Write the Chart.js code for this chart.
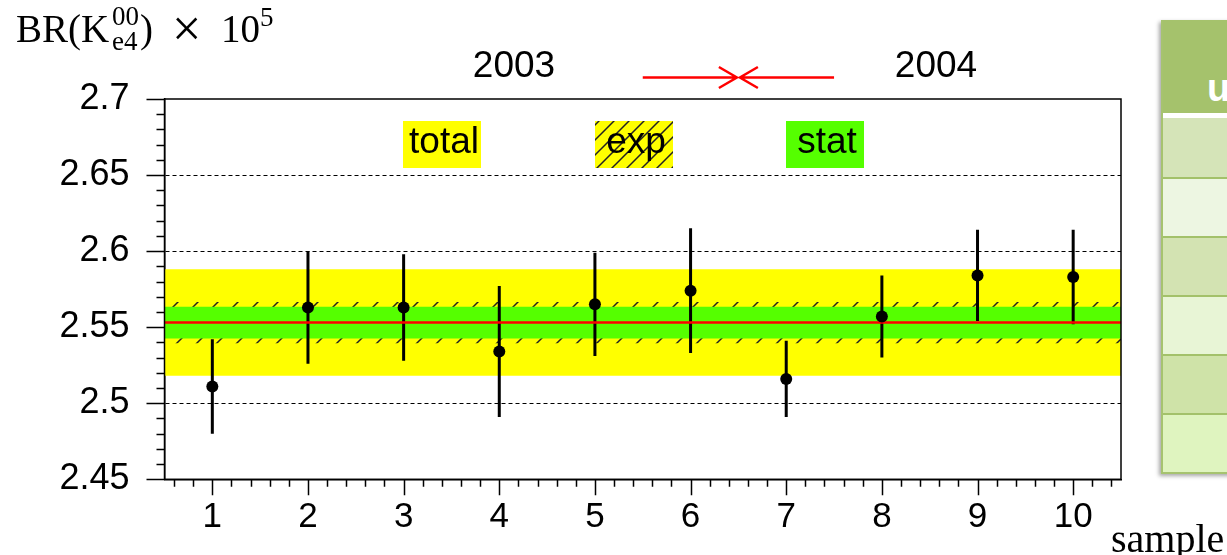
<!DOCTYPE html>
<html>
<head>
<meta charset="utf-8">
<script src="https://cdn.jsdelivr.net/npm/chart.js@4.4.1/dist/chart.umd.min.js"></script>
<style>
  html, body { margin: 0; padding: 0; background: #fff; }
  #wrap { position: relative; width: 1227px; height: 555px; overflow: hidden; }
  #c { position: absolute; left: 0; top: 0; }
  #tbl {
    position: absolute; left: 1161px; top: 20px; width: 90px; height: 454px;
    box-sizing: border-box; border-left: 2px solid #a6c36f; border-bottom: 2px solid #a6c36f;
    box-shadow: -2px 2px 4px rgba(0,0,0,0.35); background: #fff;
  }
  #tbl .hd { position: relative; height: 93px; background: #a5c26c; }
  #tbl .hd span {
    position: absolute; left: 44px; top: 48px; color: #fff;
    font: bold 38px "Liberation Sans", Arial, sans-serif; line-height: 40px;
  }
  #tbl .sep { height: 5px; background: #fff; }
  #tbl .rw { box-sizing: border-box; height: 59px; }
  #tbl .rw + .rw { border-top: 2px solid #a3c16a; }
</style>
</head>
<body>
<div id="wrap">
  <canvas id="c" width="1227" height="555"></canvas>
  <div id="tbl">
    <div class="hd"><span>u</span></div>
    <div class="sep"></div>
    <div class="rw" style="background:#d5e4b8"></div>
    <div class="rw" style="background:#edf6e2"></div>
    <div class="rw" style="background:#d3e3b2"></div>
    <div class="rw" style="background:#e8f5d6"></div>
    <div class="rw" style="background:#cfe3a8"></div>
    <div class="rw" style="background:#dff4bf"></div>
  </div>
</div>
<script>
// Branching ratio per data sample (x 10^5) with its statistical error
const samples = [1, 2, 3, 4, 5, 6, 7, 8, 9, 10];
const brValues = [2.511, 2.563, 2.563, 2.534, 2.565, 2.574, 2.516, 2.557, 2.584, 2.583];
const brErrors = [0.031, 0.037, 0.035, 0.043, 0.034, 0.041, 0.025, 0.027, 0.030, 0.031];

// Combined result and its error bands
const meanValue = 2.553;
const statError = 0.0105;
const expError = 0.0135;
const totalError = 0.035;

// Axis ticks
const xTickLabels = ['1', '2', '3', '4', '5', '6', '7', '8', '9', '10'];
const yTickValues = [2.45, 2.5, 2.55, 2.6, 2.65, 2.7];
const yTickLabels = ['2.45', '2.5', '2.55', '2.6', '2.65', '2.7'];
const xRange = [0.5, 10.5];

// Data-taking periods and the boundary between them
const yearLabels = ['2003', '2004'];
const yearBoundary = 6.5;
const arrowTails = [5.5, 7.5];

const legendLabels = ['total', 'exp', 'stat'];

const YELLOW = '#ffff00';
const GREEN = '#55ff00';
const RED = '#ff0000';
const SANS = '"Liberation Sans", Arial, Helvetica, sans-serif';
const SERIF = '"Liberation Serif", "Times New Roman", serif';

function hatch(step) {
  const c = document.createElement('canvas');
  c.width = step; c.height = step;
  const g = c.getContext('2d');
  g.strokeStyle = '#222';
  g.lineWidth = 1.5;
  g.beginPath();
  g.moveTo(0, step); g.lineTo(step, 0);
  g.moveTo(-2, 2); g.lineTo(2, -2);
  g.moveTo(step - 2, step + 2); g.lineTo(step + 2, step - 2);
  g.stroke();
  return document.getElementById('c').getContext('2d').createPattern(c, 'repeat');
}
const bandHatch = hatch(20);
const legendHatch = hatch(15);

function band(value, color, order, fill) {
  return {
    type: 'line',
    data: [{ x: xRange[0], y: value }, { x: xRange[1], y: value }],
    borderColor: 'rgba(0,0,0,0)', borderWidth: 0, pointRadius: 0,
    backgroundColor: color, fill: fill, order: order
  };
}

const datasets = [
  band(meanValue + totalError, YELLOW, 50, '+1'),
  band(meanValue - totalError, YELLOW, 50, false),
  band(meanValue + expError, bandHatch, 40, '+1'),
  band(meanValue - expError, bandHatch, 40, false),
  band(meanValue + statError, GREEN, 30, '+1'),
  band(meanValue - statError, GREEN, 30, false),
  {
    type: 'line',
    data: [{ x: xRange[0], y: meanValue }, { x: xRange[1], y: meanValue }],
    borderColor: RED, borderWidth: 2.5, pointRadius: 0, fill: false, order: 20
  },
  {
    type: 'scatter',
    data: samples.map((s, i) => ({ x: s, y: brValues[i] })),
    backgroundColor: '#000', borderColor: '#000', pointRadius: 6, borderWidth: 0, order: 10
  }
];
const MEAN_INDEX = 6;

function drawErrorBars(chart) {
  const { ctx, scales: { x, y } } = chart;
  ctx.save();
  ctx.strokeStyle = '#000';
  ctx.lineWidth = 3;
  ctx.beginPath();
  samples.forEach((s, i) => {
    const px = x.getPixelForValue(s);
    ctx.moveTo(px, y.getPixelForValue(brValues[i] + brErrors[i]));
    ctx.lineTo(px, y.getPixelForValue(brValues[i] - brErrors[i]));
  });
  ctx.stroke();
  ctx.restore();
}

function drawFrameAndTicks(chart) {
  const { ctx, chartArea: a, scales: { x, y } } = chart;
  ctx.save();
  ctx.strokeStyle = '#000';
  ctx.lineWidth = 1.5;
  ctx.strokeRect(a.left, a.top, a.right - a.left, a.bottom - a.top);
  ctx.beginPath();
  for (let i = 0; ; i++) {
    const v = xRange[0] + 0.1 + 0.2 * i;
    if (v > xRange[1]) break;
    const major = Math.abs(v - Math.round(v)) < 1e-6;
    const px = Math.round(x.getPixelForValue(v)) + 0.5;
    ctx.moveTo(px, a.bottom);
    ctx.lineTo(px, a.bottom + (major ? 16 : 7.5));
  }
  for (let i = 0; i <= 25; i++) {
    const v = yTickValues[0] + 0.01 * i;
    const py = Math.round(y.getPixelForValue(v)) + 0.5;
    ctx.moveTo(a.left, py);
    ctx.lineTo(a.left - (i % 5 === 0 ? 18 : 8), py);
  }
  ctx.stroke();
  ctx.restore();
}

function drawAnnotations(chart) {
  const { ctx, scales: { x } } = chart;
  ctx.save();
  // period labels
  ctx.fillStyle = '#000';
  ctx.font = '37px ' + SANS;
  ctx.textAlign = 'center';
  ctx.textBaseline = 'alphabetic';
  ctx.fillText(yearLabels[0], 514, 77);
  ctx.fillText(yearLabels[1], 936, 77);

  // arrows pointing at the period boundary
  const ay = 77.5;
  ctx.strokeStyle = RED;
  ctx.lineWidth = 2.5;
  ctx.beginPath();
  const tip = x.getPixelForValue(yearBoundary);
  [[arrowTails[0], -1.5], [arrowTails[1], 1.5]].forEach(([tail, off]) => {
    const tx = tip + off;
    const sx = x.getPixelForValue(tail);
    const dir = Math.sign(sx - tx);
    ctx.moveTo(sx, ay); ctx.lineTo(tx, ay);
    ctx.moveTo(tx + dir * 18, ay - 10.5); ctx.lineTo(tx, ay); ctx.lineTo(tx + dir * 18, ay + 10.5);
  });
  ctx.stroke();

  // legend
  const boxes = [
    { x: 403, fills: [YELLOW] },
    { x: 595, fills: [YELLOW, legendHatch] },
    { x: 786, fills: [GREEN] }
  ];
  ctx.font = '37px ' + SANS;
  boxes.forEach((b, i) => {
    b.fills.forEach(f => { ctx.fillStyle = f; ctx.fillRect(b.x, 121, 78, 47); });
    ctx.fillStyle = '#000';
    ctx.fillText(legendLabels[i], b.x + 41, 153);
  });

  // axis titles
  ctx.textAlign = 'left';
  ctx.font = '39px ' + SERIF;
  ctx.fillText('BR(K', 16, 41.5);
  ctx.fillText(')', 140, 41.5);
  ctx.fillText('10', 221, 41.5);
  ctx.font = '52px ' + SERIF;
  ctx.fillText('\u00d7', 172, 46);
  ctx.font = '27px ' + SERIF;
  ctx.fillText('00', 112, 25);
  ctx.fillText('e4', 112, 50);
  ctx.fillText('5', 260, 26);
  ctx.font = '40px ' + SERIF;
  ctx.fillText('sample', 1111, 551.5);
  ctx.restore();
}

const decor = {
  id: 'decor',
  beforeDatasetDraw(chart, args) {
    if (args.index === MEAN_INDEX) drawErrorBars(chart);
  },
  afterDraw(chart) {
    drawFrameAndTicks(chart);
    drawAnnotations(chart);
  }
};

new Chart(document.getElementById('c'), {
  type: 'scatter',
  data: { datasets },
  plugins: [decor],
  options: {
    responsive: false,
    animation: false,
    events: [],
    layout: { padding: { top: 99, right: 106, left: 0, bottom: 0 } },
    plugins: { legend: { display: false }, tooltip: { enabled: false } },
    scales: {
      x: {
        type: 'linear',
        min: xRange[0], max: xRange[1],
        afterFit: s => { s.height = 75.7; },
        afterBuildTicks: s => { s.ticks = samples.map(v => ({ value: v })); },
        grid: { display: false, drawTicks: false },
        border: { display: true, color: '#000', width: 1.5 },
        ticks: {
          padding: 17,
          color: '#000',
          maxRotation: 0,
          autoSkip: false,
          font: { family: SANS, size: 35 },
          callback: (v) => xTickLabels[samples.indexOf(v)]
        }
      },
      y: {
        type: 'linear',
        min: yTickValues[0], max: yTickValues[yTickValues.length - 1],
        afterFit: s => { s.width = 164.5; },
        afterBuildTicks: s => { s.ticks = yTickValues.map(v => ({ value: v })); },
        grid: {
          drawTicks: false,
          lineWidth: 1,
          color: c => (c.index === 0 || c.index === yTickValues.length - 1) ? 'rgba(0,0,0,0)' : '#000'
        },
        border: { display: true, color: '#000', width: 1.5, dash: [4, 3] },
        ticks: {
          padding: 35,
          color: '#000',
          autoSkip: false,
          font: { family: SANS, size: 36 },
          callback: (v, i) => yTickLabels[i]
        }
      }
    }
  }
});
</script>
</body>
</html>
